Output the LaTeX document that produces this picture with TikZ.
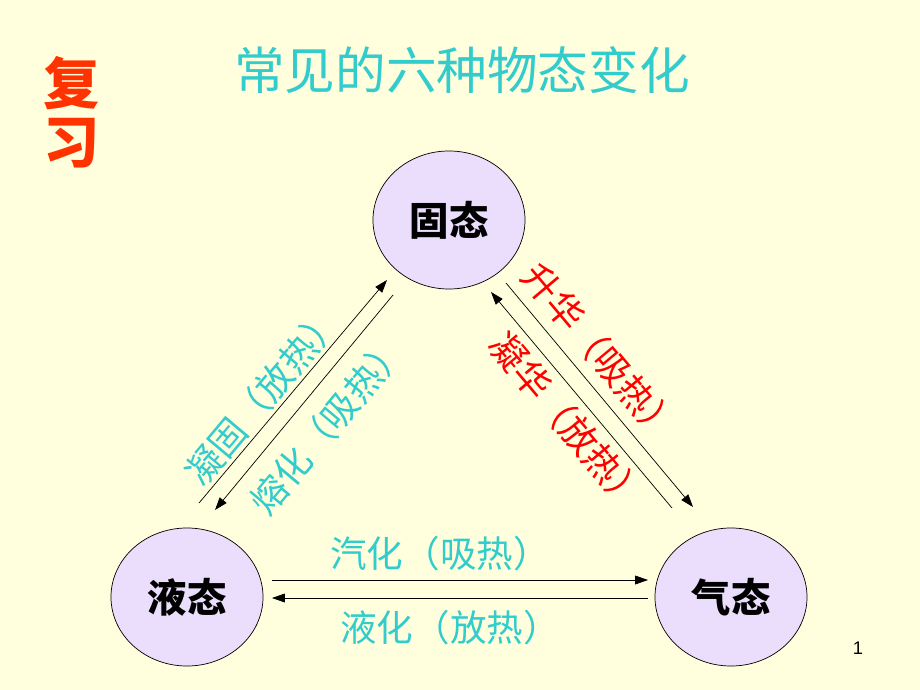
\documentclass[tikz,border=0pt]{standalone}
\usepackage{fontspec}
\usepackage{xcolor}
\usetikzlibrary{shapes.geometric,arrows.meta}
\setmainfont{Liberation Sans}
\newfontfamily\cjk{Noto Sans CJK SC}
\definecolor{bgyellow}{RGB}{255,255,221}
\definecolor{stcyan}{RGB}{51,204,204}
\definecolor{stlilac}{RGB}{234,222,252}
\definecolor{fxred}{RGB}{255,51,0}

\tikzset{
	state/.style={ellipse, draw, line width=0.5pt, fill=stlilac, minimum width=3.8cm, minimum height=3.45cm, font=\cjk\bfseries\fontsize{28}{28}\selectfont},
	flow/.style={-{Triangle[length=0.32cm,width=0.22cm]}, line width=0.5pt},
	cyanlabel/.style={text=stcyan, inner sep=0pt, font=\cjk\fontsize{26}{26}\selectfont},
	redlabel/.style={text=red, inner sep=0pt, font=\cjk\fontsize{26}{26}\selectfont},
}

\begin{document}
\begin{tikzpicture}[x=0.025cm,y=-0.025cm]
					\fill[bgyellow] (0,0) rectangle (920,690);
					
					\node[text=stcyan, font=\cjk\fontsize{36}{36}\selectfont] (title) at (462,70) {常见的六种物态变化};
					\node[text=fxred, font=\cjk\bfseries\fontsize{40}{42}\selectfont, align=center] (review) at (72,112) {复\\习};
					
					\node[state] (solid) at (449,220) {固态};
					\node[state] (liquid) at (187,597) {液态};
					\node[state] (gas) at (731,597) {气态};
					
					\coordinate (LS1) at (199,503);
					\coordinate (LS2) at (387,280);
					\coordinate (SL1) at (393,295);
					\coordinate (SL2) at (215,510);
					\coordinate (SG1) at (506,283);
					\coordinate (SG2) at (693,507);
					\coordinate (GS1) at (672,508);
					\coordinate (GS2) at (491,292);
					\coordinate (LG1) at (272,580);
					\coordinate (LG2) at (648,580);
					\coordinate (GL1) at (648,598);
					\coordinate (GL2) at (272,598);
					
					\draw[flow] (LS1) -- (LS2);
					\draw[flow] (SL1) -- (SL2);
					\draw[flow] (SG1) -- (SG2);
					\draw[flow] (GS1) -- (GS2);
					\draw[flow] (LG1) -- (LG2);
					\draw[flow] (GL1) -- (GL2);
					
					\node[cyanlabel, rotate=50] (freeze) at (263,396) {凝固（放热）};
					\node[cyanlabel, rotate=50] (melt) at (328,425) {熔化（吸热）};
					\node[redlabel, rotate=-50] (sublime) at (601,353) {升华（吸热）};
					\node[redlabel, rotate=-50] (deposit) at (568,422) {凝华（放热）};
					\node[cyanlabel] (vapor) at (440,554) {汽化（吸热）};
					\node[cyanlabel] (condense) at (450,628) {液化（放热）};
					
					\node[font=\fontsize{13}{13}\selectfont] (page) at (858,648) {1};
				\end{tikzpicture}
\end{document}
